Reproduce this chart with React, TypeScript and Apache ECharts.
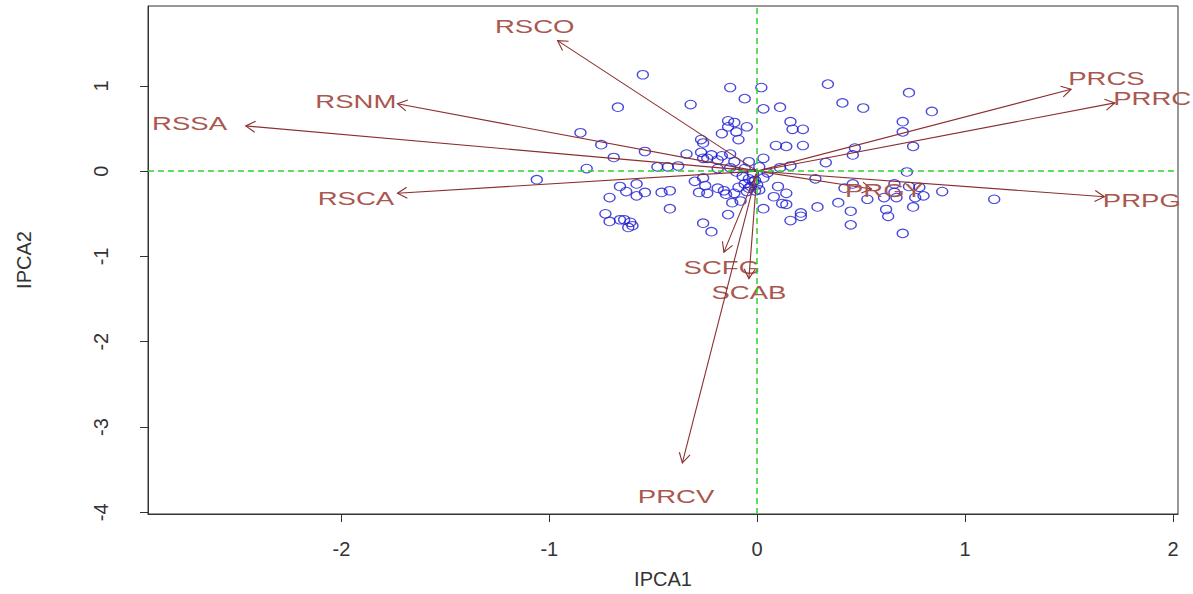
import React, { useEffect, useRef } from "react";
import * as echarts from "echarts";

// Scores (IPCA1, IPCA2)
const ptX = [
  -0.55, -0.67, -0.85, -0.75, -0.54, -0.69, -0.82, -0.48, -0.43, -0.38,
  -0.13, 0.02, 0.34, -0.06, -0.32, 0.03, 0.11, 0.41, 0.51, 0.73,
  0.84, 0.70, 0.70, 0.75, 0.47, 0.46, -0.14, -0.11, -0.05, -0.14,
  0.16, 0.17, 0.22, -0.10, -0.17, -0.09, -0.27, -0.26, 0.09, 0.14,
  0.22, -0.34, -0.27, -0.22, -0.17, -0.13, -0.26, -0.19, -0.11, -0.04,
  0.03, 0.33, 0.11, 0.72, -1.06, -0.58, -0.66, -0.63, -0.58, -0.54,
  -0.71, -0.46, -0.42, -0.42, -0.73, -0.71, -0.66, -0.64, -0.61, -0.60,
  -0.62, -0.30, -0.26, -0.25, -0.19, -0.16, -0.28, -0.15, -0.11, -0.09,
  -0.06, -0.08, -0.12, 0.01, 0.10, 0.08, 0.14, 0.12, 0.14, 0.03,
  -0.14, 0.29, 0.39, 0.21, 0.21, 0.16, -0.26, -0.22, 0.28, 0.46,
  0.42, 0.66, 0.73, 0.78, 0.66, 0.67, 0.61, 0.53, 0.76, 0.80,
  0.89, 1.14, 0.75, 0.45, 0.62, 0.63, 0.45, 0.70, -0.19, -0.13,
  -0.10, -0.04, 0.03, -0.24, -0.05, -0.24, -0.02, -0.01, -0.03, 0.01,
  0.05, -0.07, -0.01, -0.06, 0.16, -0.02, 0.0, -0.04,
];
const ptY = [
  1.13, 0.75, 0.45, 0.31, 0.23, 0.16, 0.03, 0.05, 0.05, 0.06,
  0.98, 0.98, 1.02, 0.85, 0.78, 0.73, 0.75, 0.80, 0.74, 0.92,
  0.70, 0.58, 0.46, 0.29, 0.27, 0.19, 0.59, 0.57, 0.52, 0.52,
  0.58, 0.49, 0.49, 0.46, 0.44, 0.37, 0.37, 0.33, 0.30, 0.29,
  0.30, 0.20, 0.22, 0.19, 0.18, 0.20, 0.15, 0.13, 0.11, 0.11,
  0.15, 0.10, 0.04, -0.01, -0.10, -0.15, -0.18, -0.24, -0.29, -0.25,
  -0.31, -0.25, -0.23, -0.44, -0.50, -0.59, -0.57, -0.57, -0.60, -0.64,
  -0.66, -0.12, -0.08, -0.17, -0.20, -0.23, -0.25, -0.27, -0.26, -0.19,
  -0.15, -0.35, -0.37, -0.22, -0.18, -0.30, -0.26, -0.38, -0.39, -0.44,
  -0.51, -0.42, -0.37, -0.49, -0.53, -0.58, -0.61, -0.71, -0.09, -0.15,
  -0.20, -0.15, -0.18, -0.19, -0.25, -0.31, -0.31, -0.33, -0.31, -0.29,
  -0.24, -0.33, -0.42, -0.47, -0.45, -0.53, -0.63, -0.73, 0.03, 0.04,
  -0.01, -0.09, -0.08, -0.26, -0.24, 0.15, -0.03, -0.11, -0.18, 0.05,
  -0.02, -0.06, -0.23, 0.03, 0.06, -0.12, -0.16, -0.20,
];

// Variable loadings: arrow tips and label positions
const varNames = ["RSCO", "RSNM", "RSSA", "RSCA", "PRCS", "PRRC", "PRPG", "PRGY", "SCFG", "SCAB", "PRCV"];
const arrowX = [-0.96, -1.73, -2.46, -1.73, 1.51, 1.72, 1.67, 0.55, -0.16, -0.04, -0.36];
const arrowY = [1.53, 0.79, 0.53, -0.26, 0.96, 0.80, -0.30, -0.21, -0.95, -1.26, -3.42];
const labelX = [-1.07, -1.93, -2.73, -1.93, 1.68, 1.90, 1.85, 0.61, -0.17, -0.04, -0.39];
const labelY = [1.70, 0.82, 0.56, -0.32, 1.08, 0.85, -0.35, -0.23, -1.13, -1.42, -3.81];

const xTicks = [-2, -1, 0, 1, 2];
const yTicks = [-4, -3, -2, -1, 0, 1];

const ARROW = "#8b2f2f";
const LABEL = "#a9574f";
const BLUE = "#1a1ad2";
const GREEN = "#2fd12f";
const FONT = "Liberation Sans, Arial, sans-serif";

export default function App() {
  const ref = useRef<HTMLDivElement>(null);
  useEffect(() => {
    if (!ref.current) return;
    const chart = echarts.init(ref.current, null, { renderer: "svg" });
    const points = ptX.map((x, i) => [x, ptY[i]]);
    const arrows = arrowX.map((x, i) => [x, arrowY[i], labelX[i], labelY[i]]);
    chart.setOption({
      animation: false,
      backgroundColor: "#ffffff",
      grid: {
        left: 148,
        right: 15,
        top: 6,
        bottom: 80,
        show: true,
        borderColor: "#333",
        borderWidth: 1,
        backgroundColor: "transparent",
      },
      xAxis: {
        type: "value",
        min: -2.93,
        max: 2.024,
        name: "IPCA1",
        nameLocation: "middle",
        nameGap: 55,
        nameTextStyle: { fontSize: 20, color: "#333", fontFamily: FONT },
        splitLine: { show: false },
        axisLine: { show: true, onZero: false, lineStyle: { color: "#333" } },
        axisTick: { show: true, length: 8, customValues: xTicks, lineStyle: { color: "#333" } },
        axisLabel: { customValues: xTicks, margin: 25, fontSize: 20, color: "#333", fontFamily: FONT },
      },
      yAxis: {
        type: "value",
        min: -4.02,
        max: 1.936,
        name: "IPCA2",
        nameLocation: "middle",
        nameGap: 114,
        nameTextStyle: { fontSize: 20, color: "#333", fontFamily: FONT },
        splitLine: { show: false },
        axisLine: { show: true, onZero: false, lineStyle: { color: "#333" } },
        axisTick: { show: true, length: 8, customValues: yTicks, lineStyle: { color: "#333" } },
        axisLabel: { customValues: yTicks, rotate: 90, margin: 37, fontSize: 20, color: "#333", fontFamily: FONT },
      },
      series: [
        {
          type: "scatter",
          data: points,
          symbol: "circle",
          symbolSize: [11, 8.5],
          itemStyle: { color: "rgba(0,0,0,0)", borderColor: BLUE, borderWidth: 1.2 },
          silent: true,
          z: 2,
        },
        {
          type: "scatter",
          data: [],
          silent: true,
          markLine: {
            silent: true,
            symbol: "none",
            label: { show: false },
            lineStyle: { color: GREEN, type: [6, 4], width: 1.5 },
            data: [{ xAxis: 0 }, { yAxis: 0 }],
          },
          z: 3,
        },
        {
          type: "custom",
          data: arrows,
          silent: true,
          z: 4,
          renderItem: (params: any, api: any) => {
            const o = api.coord([0, 0]);
            const t = api.coord([api.value(0), api.value(1)]);
            const l = api.coord([api.value(2), api.value(3)]);
            const ang = Math.atan2(t[1] - o[1], t[0] - o[0]);
            const h = 11;
            const a = Math.PI / 6;
            const p1 = [t[0] - h * Math.cos(ang - a), t[1] - h * Math.sin(ang - a)];
            const p2 = [t[0] - h * Math.cos(ang + a), t[1] - h * Math.sin(ang + a)];
            return {
              type: "group",
              children: [
                { type: "line", shape: { x1: o[0], y1: o[1], x2: t[0], y2: t[1] }, style: { stroke: ARROW, lineWidth: 1.1 } },
                { type: "polyline", shape: { points: [p1, t, p2] }, style: { stroke: ARROW, fill: "none", lineWidth: 1.1 } },
                {
                  type: "text",
                  x: l[0],
                  y: l[1],
                  scaleX: 1.45,
                  style: {
                    text: varNames[params.dataIndex],
                    fill: LABEL,
                    fontSize: 19,
                    fontFamily: FONT,
                    align: "center",
                    verticalAlign: "middle",
                  },
                },
              ],
            };
          },
        },
      ],
    });
    return () => chart.dispose();
  }, []);
  return <div ref={ref} style={{ position: "fixed", left: 0, top: 0, width: 1193, height: 594, background: "#fff" }} />;
}
